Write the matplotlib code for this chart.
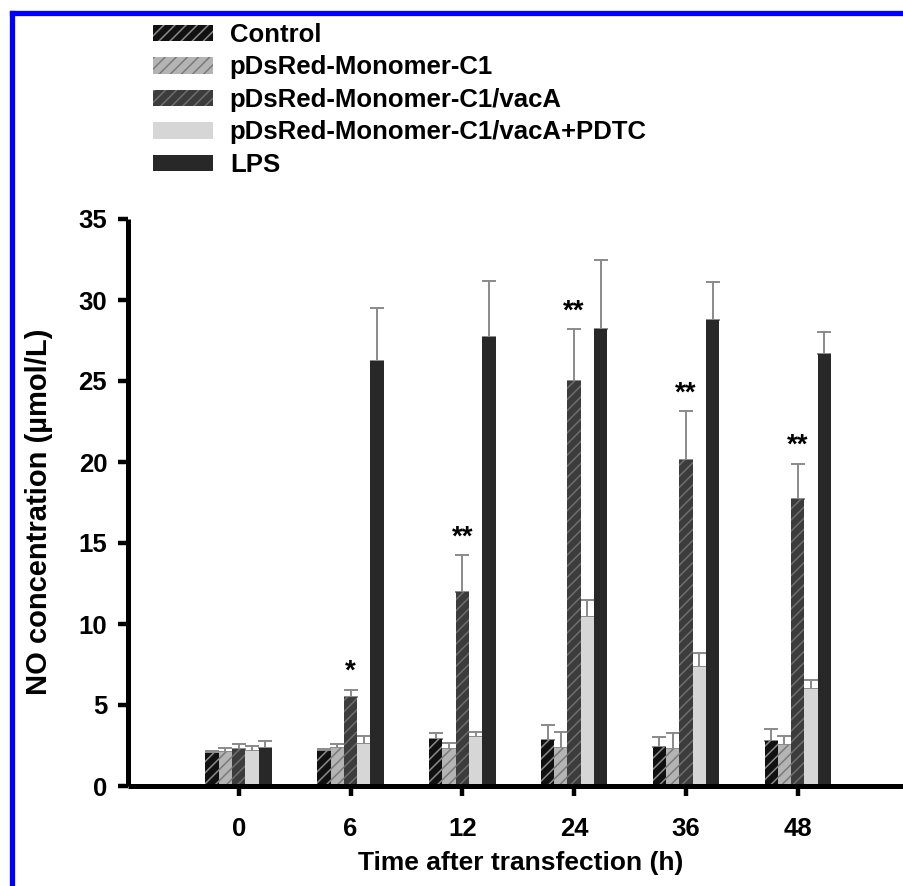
import numpy as np
import matplotlib
matplotlib.use("Agg")
import matplotlib.pyplot as plt
from matplotlib.lines import Line2D

plt.rcParams['font.family'] = ['Liberation Sans', 'DejaVu Sans']
plt.rcParams['font.weight'] = 'bold'
plt.rcParams['hatch.linewidth'] = 1.1

# data (NO, umol/L), upper error bar only
time_labels = ['0', '6', '12', '24', '36', '48']
groups = ['Control', 'pDsRed-Monomer-C1', 'pDsRed-Monomer-C1/vacA',
          'pDsRed-Monomer-C1/vacA+PDTC', 'LPS']

control = [2.02, 2.18, 2.90, 2.84, 2.43, 2.76]
control_err = [0.16, 0.12, 0.35, 0.90, 0.57, 0.74]
empty_vec = [2.12, 2.33, 2.28, 2.35, 2.28, 2.51]
empty_vec_err = [0.23, 0.27, 0.39, 0.96, 1.01, 0.58]
vaca = [2.26, 5.51, 11.98, 25.02, 20.12, 17.70]
vaca_err = [0.34, 0.42, 2.26, 3.18, 3.03, 2.20]
vaca_pdtc = [2.15, 2.60, 3.04, 10.41, 7.37, 5.99]
vaca_pdtc_err = [0.30, 0.49, 0.27, 1.07, 0.82, 0.55]
lps = [2.33, 26.25, 27.70, 28.20, 28.77, 26.65]
lps_err = [0.43, 3.25, 3.45, 4.25, 2.36, 1.40]
stars = ['', '*', '**', '**', '**', '**']

values = [control, empty_vec, vaca, vaca_pdtc, lps]
errors = [control_err, empty_vec_err, vaca_err, vaca_pdtc_err, lps_err]

# (face colour, hatch colour, hatch)
styles = [('#111111', '#8a8a8a', '///'),
          ('#b4b4b4', '#7a7a7a', '///'),
          ('#3c3c3c', '#6e6e6e', '///'),
          ('#d6d6d6', '#d6d6d6', None),
          ('#282828', '#282828', None)]

W, H = 904, 886
fig = plt.figure(figsize=(W / 100, H / 100), dpi=100)
ax = fig.add_axes([128 / W, 1 - 786 / H, (W - 128) / W, (786 - 219) / H])

x = np.arange(len(time_labels))
width = 0.119
for i, (vals, errs) in enumerate(zip(values, errors)):
    fc, hc, hatch = styles[i]
    pos = x + (i - 2) * width
    ax.bar(pos, vals, width, color=fc, edgecolor=hc, hatch=hatch,
           linewidth=0, label=groups[i], zorder=2)
    ax.errorbar(pos, vals, yerr=[np.zeros(len(errs)), errs], fmt='none',
                ecolor='#8a8a8a', elinewidth=1.4, capsize=4.7, capthick=1.4,
                zorder=1)

# significance marks above the vacA bars
for xi, v, e, s in zip(x, vaca, vaca_err, stars):
    if s:
        ax.text(xi, v + e + 1.1, s, ha='center', va='center',
                fontsize=20, fontweight='bold')

ax.set_xlim(-0.99, 5.95)
ax.set_ylim(0, 35)
ax.set_yticks(np.arange(0, 36, 5))
ax.set_xticks(x)
ax.set_xticklabels(time_labels)

for side in ['top', 'right']:
    ax.spines[side].set_visible(False)
for side in ['left', 'bottom']:
    ax.spines[side].set_linewidth(3.6)
    ax.spines[side].set_capstyle('butt')
ax.tick_params(axis='both', direction='out', length=7, width=3.2,
               labelsize=18.5, colors='black')
ax.tick_params(axis='y', pad=8)
ax.tick_params(axis='x', pad=15)

ax.set_ylabel('NO concentration (µmol/L)', fontsize=21, fontweight='bold')
ax.yaxis.set_label_coords(-0.097, 0.483)
ax.set_xlabel('Time after transfection (h)', fontsize=19, fontweight='bold')
ax.xaxis.set_label_coords(0.506, -0.115)

fig.legend(loc='upper left', bbox_to_anchor=(153 / W, 1 - 23 / H),
           frameon=False, handlelength=2.33, handleheight=0.6,
           handletextpad=0.66, labelspacing=0.33, borderpad=0, borderaxespad=0,
           prop={'weight': 'bold', 'size': 18.5})

# blue frame of the original figure panel
fig.add_artist(Line2D([11.5 / W, 1], [1 - 12.5 / H, 1 - 12.5 / H],
                      color='#0000ff', lw=3.8, transform=fig.transFigure))
fig.add_artist(Line2D([11.5 / W, 11.5 / W], [0, 1 - 12.5 / H],
                      color='#0000ff', lw=3.8, transform=fig.transFigure))

fig.savefig('out.png', dpi=100)
